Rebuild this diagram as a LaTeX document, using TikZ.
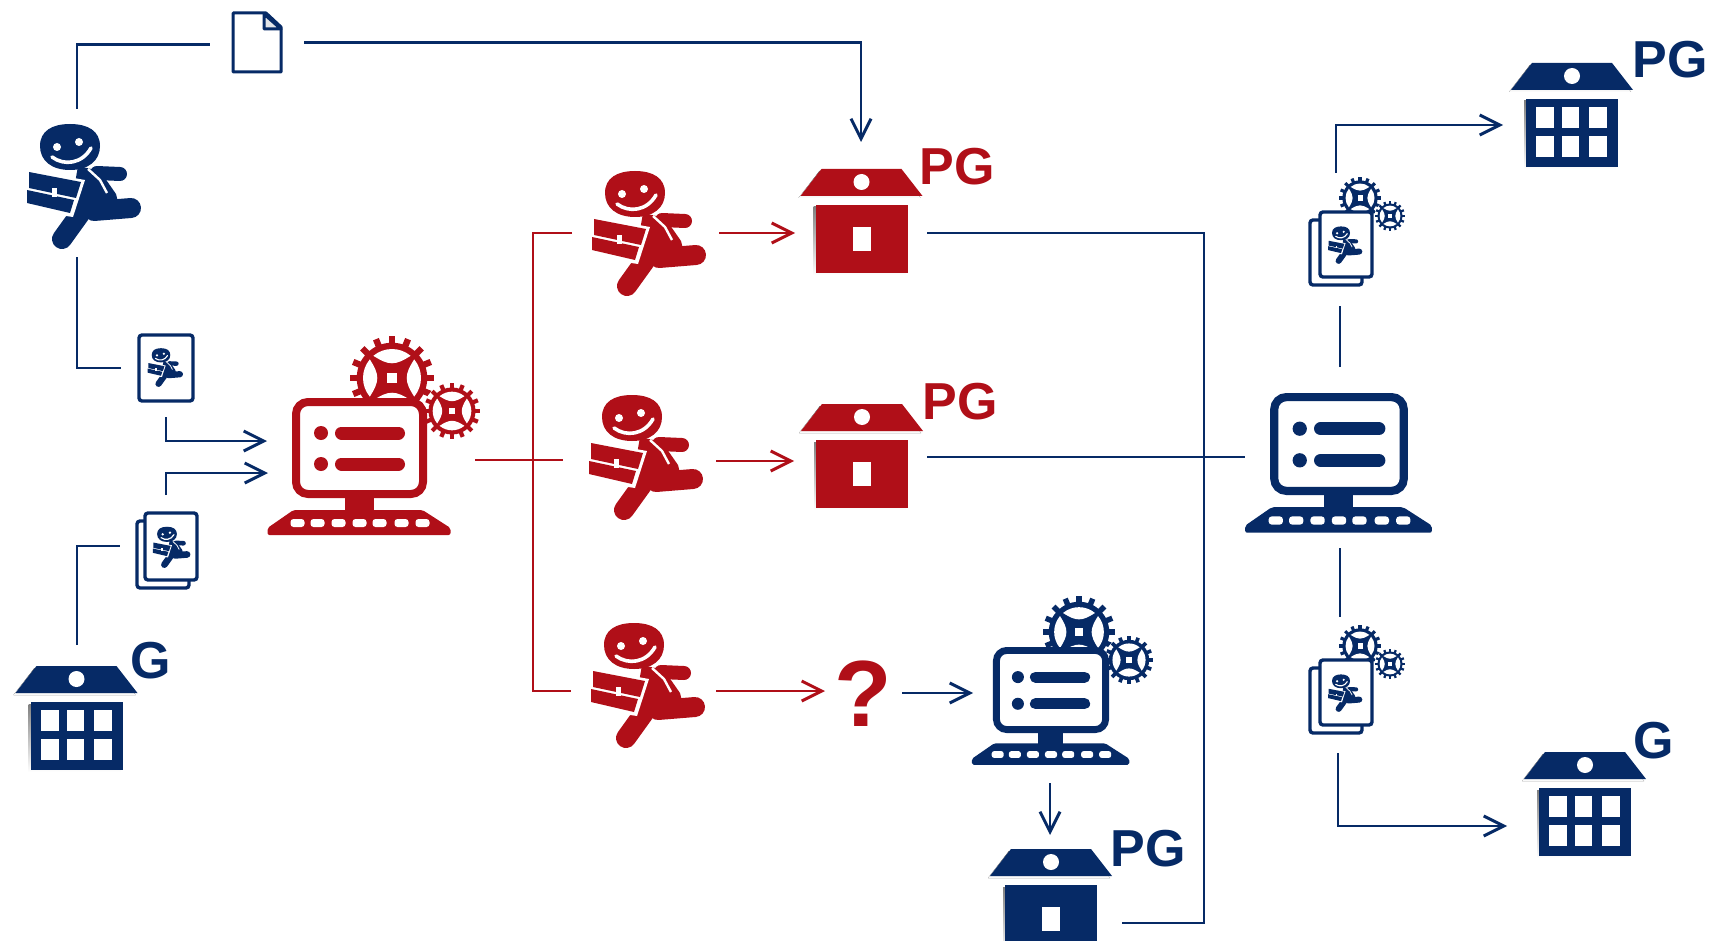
\documentclass[tikz,border=0pt]{standalone}
\usepackage{fontspec}
\setmainfont{Liberation Sans}
\usetikzlibrary{arrows.meta}
\definecolor{nblue}{HTML}{062A66}
\definecolor{nred}{HTML}{B00F18}
\definecolor{shade}{HTML}{E2E4E8}
\tikzset{
  link/.style={line width=1.3pt,line join=miter},
  bluelink/.style={link,color=nblue},
  redlink/.style={link,color=nred},
  tip/.style={-{Straight Barb[length=10pt,width=10pt,line width=1.5pt]}},
  hit/.style={inner sep=0pt,outer sep=0pt,draw=none,fill=none},
  brand/.style={font=\bfseries\fontsize{26}{26}\selectfont,inner sep=0pt},
}
% unit: 1 = one reference pixel = 0.5pt
\newcommand{\hitbox}[5]{\node[hit,minimum width=#4*0.5pt,minimum height=#5*0.5pt] (#1) at (#2,#3) {};}
\newcommand{\runnerfig}[4]{%
 \begin{scope}[shift={(#1,#2)},scale=#3]
  \fill[#4] (-30,0) .. controls (-30,-15) and (-18,-22) .. (0,-22) .. controls (18,-22) and (30,-15) .. (30,0)
     .. controls (30,15) and (18,24) .. (0,24) .. controls (-18,24) and (-30,15) .. (-30,0) -- cycle;
  \fill[white] (-13,1) circle (4) (9,-4) circle (4);
  \draw[white,line width=#3*1.8pt,line cap=round] (-18,11) .. controls (-6,20) and (12,18) .. (21,2);
  \fill[#4] (8,20) -- (30,25) -- (46,48) -- (48,56) -- (28,72) -- (0,66) -- cycle;
  \draw[#4,line width=#3*7pt,line cap=round] (27,27) -- (50,28);
  \draw[#4,line width=#3*10pt,line cap=round] (24,65) -- (61,62);
  \draw[#4,line width=#3*10pt,line cap=round] (10,68) -- (-8,93);
  \draw[white,line width=#3*1.2pt] (18,23) -- (30,34) -- (37,47);
  \fill[white] (-46,23) -- (15,34) -- (3,71) -- (-51,63) -- cycle;
  \fill[#4] (-41,26) -- (11,36) -- (6,52) -- (-41,42) -- cycle;
  \fill[#4] (-43,44) -- (4,54) -- (0,67) -- (-43,57) -- cycle;
  \fill[white] (-18,42) rectangle (-13,51);
 \end{scope}}
\newcommand{\gearfig}[4]{%
 \begin{scope}[shift={(#1,#2)}]
  \fill[white] (0,0) circle (#3*1.02);
  \foreach \a in {0,22.5,...,337.5}
    \draw[#4,line width=#3*0.075pt] (\a:#3*0.75) -- (\a:#3);
  \fill[#4] (0,0) circle (#3*0.84);
  \foreach \a in {0,90,180,270}
    \fill[white] (\a-40:#3*0.69) arc[start angle=\a-40,end angle=\a+40,radius=#3*0.69]
      .. controls (\a+14:#3*0.3) and (\a-14:#3*0.3) .. cycle;
  \fill[white] (-#3*0.12,-#3*0.12) rectangle (#3*0.12,#3*0.12);
 \end{scope}}
\newcommand{\monitorfig}[4]{%
 \begin{scope}[shift={(#1,#2)},scale=#3]
  \draw[#4,fill=white,line width=#3*4pt,rounded corners=#3*6pt] (-63.5,-46) rectangle (63.5,46);
  \fill[#4] (-38.5,-15) circle (7) (-38.5,16) circle (7);
  \draw[#4,line width=#3*6.5pt,line cap=round] (-18,-15) -- (39,-15);
  \draw[#4,line width=#3*6.5pt,line cap=round] (-18,16) -- (39,16);
  \fill[#4] (-15,50) rectangle (14,64);
  \fill[#4,rounded corners=#3*1pt] (-92,87) -- (-92,80) -- (-66,62) -- (63,62) -- (91,80) -- (91,87) -- cycle;
  \foreach \k in {-62,-42,-21,0,20,42,63}
    \fill[white,rounded corners=#3*1.5pt] (\k-7,71) rectangle (\k+7,79);
 \end{scope}}
\newcommand{\housefig}[3]{%
 \begin{scope}[shift={(#1,#2)}]
  \fill[shade] (-63,29) -- (-42,2) -- (38,2) -- (59,29) -- cycle;
  \fill[shade] (-48,38) rectangle (44,106);
  \fill[#3] (-61,27) -- (-40,0) -- (40,0) -- (61,27) -- cycle;
  \fill[white] (0,13) circle (8);
  \fill[#3] (-46,36) rectangle (46,104);
 \end{scope}}
\newcommand{\doorfig}[2]{\fill[white] ([shift={(-9,58)}]#1,#2) rectangle ([shift={(9,82)}]#1,#2);}
\newcommand{\windowsfig}[2]{%
 \begin{scope}[shift={(#1,#2)}]
  \foreach \xa/\xb in {-36/-18,-10/7,17/35}
   \foreach \ya/\yb in {44/65,73/94}
     \fill[white] (\xa,\ya) rectangle (\xb,\yb);
 \end{scope}}
\newcommand{\sheetfig}[4]{\draw[nblue,fill=white,line width=1.7pt,rounded corners=1.5pt] (#1,#2) rectangle (#3,#4);}
\begin{document}
\begin{tikzpicture}[x=0.5pt,y=-0.5pt]
\useasboundingbox (0,0) rectangle (1711,941);
% ---- invisible connection boxes
\hitbox{fileA}{257}{43}{94}{80}
\hitbox{runA}{77}{183}{130}{148}
\hitbox{docA}{166}{368}{90}{98}
\hitbox{stackA}{166}{546}{92}{102}
\hitbox{bankG}{77}{725}{110}{160}
\hitbox{srvR}{360}{460}{230}{160}
\hitbox{runR}{645.5}{233}{147}{100}
\hitbox{runS}{639.5}{460}{153}{100}
\hitbox{runT}{643.5}{691}{145}{100}
\hitbox{peerR}{861}{233}{132}{170}
\hitbox{peerS}{860.5}{457}{133}{106}
\hitbox{quest}{863.5}{693}{77}{70}
\hitbox{srvB}{1050}{693}{154}{180}
\hitbox{peerB}{1050}{879}{144}{88}
\hitbox{srvM}{1340}{457.5}{190}{181}
\hitbox{stackC}{1336}{239.5}{60}{133}
\hitbox{stackD}{1338}{685}{60}{136}
\hitbox{bankP}{1572}{125}{138}{90}
\hitbox{bankQ}{1585}{826}{156}{90}
\coordinate (srvTarget) at (861,142);
\coordinate (inA) at (267,441);
\coordinate (inB) at (268,473);
\coordinate (split) at (533,460);
\coordinate (busA) at (1204,233);
\coordinate (busB) at (1204,923);
% ---- blue connectors
\draw[bluelink] (runA.north) |- ([yshift=-0.8pt]fileA.west);
\draw[bluelink,tip] ([yshift=0.2pt]fileA.east) -| (srvTarget);
\draw[bluelink] (runA.south) |- (docA.west);
\draw[bluelink,tip] (docA.south) |- (inA);
\draw[bluelink,tip] (stackA.north) |- (inB);
\draw[bluelink] (bankG.north) |- (stackA.west);
\draw[bluelink] (peerR.east) -- (busA) -- (busB) -- (peerB.south east);
\draw[bluelink] (peerS.east) -- (peerS.east -| srvM.west);
\draw[bluelink] (srvM.north) -- (srvM.north |- stackC.south);
\draw[bluelink] (srvM.south) -- (srvM.south |- stackD.north);
\draw[bluelink,tip] (stackC.north) |- (bankP.west);
\draw[bluelink,tip] (stackD.south) |- (bankQ.west);
\draw[bluelink,tip] (quest.east) -- (srvB.west);
\draw[bluelink,tip] (srvB.south) -- (peerB.north);
% ---- red connectors
\draw[redlink] (srvR.east) -- (runS.west);
\draw[redlink] (runR.west) -| (split) |- (runT.west);
\draw[redlink,tip] (runR.east) -- (runR.east -| peerR.west);
\draw[redlink,tip] ([yshift=-0.5pt]runS.east) -- ([yshift=-0.5pt]runS.east -| peerS.west);
\draw[redlink,tip] (runT.east) -- (runT.east -| quest.west);
% ---- file
\draw[nblue,fill=white,line width=1.5pt,line join=round] (233,13) -- (266,13) -- (281,27) -- (281,72) -- (233,72) -- cycle;
\draw[nblue,fill=shade,line width=1.5pt,line join=round] (264,14) -- (264,29) -- (281,29) -- cycle;
% ---- runners
\runnerfig{70}{146}{1}{nblue}
\runnerfig{635}{193}{1}{nred}
\runnerfig{632}{417}{1}{nred}
\runnerfig{634}{645}{1}{nred}
% ---- small documents
\sheetfig{139}{335}{193}{401}
\runnerfig{161}{355}{0.31}{nblue}
\sheetfig{137}{521}{189}{588}
\sheetfig{145}{513}{197}{580}
\runnerfig{167}{534}{0.33}{nblue}
\gearfig{1360}{198}{21}{nblue}
\gearfig{1390}{216}{15}{nblue}
\sheetfig{1310}{220}{1362}{285}
\sheetfig{1320}{212}{1372}{277}
\runnerfig{1341}{233}{0.3}{nblue}
\gearfig{1360}{646}{21}{nblue}
\gearfig{1390}{664}{15}{nblue}
\sheetfig{1310}{668}{1362}{733}
\sheetfig{1320}{660}{1372}{725}
\runnerfig{1341}{681}{0.3}{nblue}
% ---- servers
\gearfig{392}{378}{42}{nred}
\gearfig{452}{411}{28}{nred}
\monitorfig{359.5}{448}{1}{nred}
\gearfig{1079}{632}{36}{nblue}
\gearfig{1129}{660}{24}{nblue}
\monitorfig{1051}{690}{0.86}{nblue}
\monitorfig{1339}{444}{1.02}{nblue}
% ---- houses
\housefig{861.5}{169}{nred}\doorfig{861.5}{169}
\housefig{862}{404}{nred}\doorfig{862}{404}
\housefig{1051}{849}{nblue}\doorfig{1051}{849}
\housefig{1572}{63}{nblue}\windowsfig{1572}{63}
\housefig{76.5}{666}{nblue}\windowsfig{76.5}{666}
\housefig{1585}{752}{nblue}\windowsfig{1585}{752}
% ---- labels
\node[brand,text=nred] (lblA) at (957,167) {PG};
\node[brand,text=nred] (lblB) at (960,402) {PG};
\node[brand,text=nblue] (lblC) at (1148,849) {PG};
\node[brand,text=nblue] (lblD) at (1670,60) {PG};
\node[brand,text=nblue] (lblE) at (151,661) {G};
\node[brand,text=nblue] (lblF) at (1654,741) {G};
\node[text=nred,font=\bfseries\fontsize{47}{47}\selectfont,inner sep=0pt] (qmark) at (863,694) {?};
\end{tikzpicture}
\end{document}
